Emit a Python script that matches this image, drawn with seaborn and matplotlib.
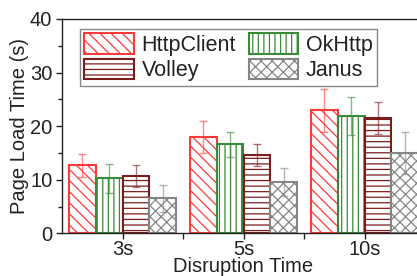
import numpy as np
import pandas as pd
import seaborn as sns
import matplotlib
matplotlib.use("Agg")
import matplotlib.pyplot as plt
import matplotlib.patches as mpatches
from matplotlib.ticker import MultipleLocator, FixedLocator

# data
times = ['3s', '5s', '10s']
libs = ['HttpClient', 'OkHttp', 'Volley', 'Janus']
httpclient = [12.7, 18.0, 23.0]
okhttp = [10.3, 16.6, 21.9]
volley = [10.7, 14.6, 21.6]
janus = [6.5, 9.5, 15.0]
httpclient_err = [2.1, 3.0, 4.0]
okhttp_err = [2.7, 2.4, 3.5]
volley_err = [2.0, 2.1, 3.0]
janus_err = [2.5, 2.6, 4.0]

colors = ['#ff3a3a', '#3a8a3a', '#7a1c1c', '#858585']
hatches = ['\\\\\\', '|||', '---', 'xxx']

df = pd.DataFrame({
    'time': times * 4,
    'lib': [l for l in libs for _ in times],
    'value': httpclient + okhttp + volley + janus,
})
errs = [httpclient_err, okhttp_err, volley_err, janus_err]

sns.set_style('ticks')
plt.rcParams['font.family'] = ['Liberation Sans', 'DejaVu Sans']
plt.rcParams['hatch.linewidth'] = 0.9
text_col = '#222222'

fig = plt.figure(figsize=(4.17, 2.76), dpi=100)
ax = fig.add_axes([62 / 417, 42.7 / 276, 363 / 417, 214.3 / 276])

sns.barplot(data=df, x='time', y='value', hue='lib', order=times, hue_order=libs,
            errorbar=None, width=0.89, gap=0, legend=False, ax=ax)

for cont, c, h, e in zip(ax.containers, colors, hatches, errs):
    for bar, err in zip(cont, e):
        bar.set_facecolor('white')
        bar.set_edgecolor(c)
        bar.set_hatch(h)
        bar.set_linewidth(1.5)
        x = bar.get_x() + bar.get_width() / 2
        ax.errorbar(x, bar.get_height(), yerr=err, color=c, alpha=0.6,
                    capsize=3, elinewidth=1.0, capthick=1.0, fmt='none')

ax.set_xlim(-0.5, 2.5)
ax.set_ylim(0, 40)
ax.yaxis.set_major_locator(MultipleLocator(10))
ax.yaxis.set_minor_locator(MultipleLocator(5))
ax.xaxis.set_minor_locator(FixedLocator([0.5, 1.5]))
ax.tick_params(axis='both', which='major', direction='out', length=4, width=1,
               labelsize=14.5, colors=text_col, pad=3)
ax.tick_params(axis='x', which='major', pad=1)
ax.tick_params(axis='both', which='minor', direction='out', length=3, width=1, color=text_col)
ax.tick_params(axis='x', which='minor', length=4)

for s in ['left', 'bottom', 'top', 'right']:
    ax.spines[s].set_visible(True)
    ax.spines[s].set_color(text_col)
    ax.spines[s].set_linewidth(1)

ax.set_xlabel('Disruption Time', fontsize=14.5, color=text_col, labelpad=-1.5)
ax.set_ylabel('Page Load Time (s)', fontsize=14.5, color=text_col, labelpad=1)

# legend fills column-wise, so order handles to read row by row
handles = [mpatches.Patch(facecolor='white', edgecolor=c, hatch=h, linewidth=1.5, label=l)
           for l, c, h in zip(libs, colors, hatches)]
handles = [handles[0], handles[2], handles[1], handles[3]]
leg = ax.legend(handles=handles, ncol=2, loc='upper left', bbox_to_anchor=(0.05, 0.955),
                fontsize=15.5, frameon=True, fancybox=False, framealpha=1,
                handlelength=2.3, handleheight=1.1, handletextpad=0.35,
                columnspacing=0.6, labelspacing=0.15, borderpad=0.2, borderaxespad=0)
leg.get_frame().set_edgecolor('#888888')
leg.get_frame().set_linewidth(1)
for t in leg.get_texts():
    t.set_color(text_col)

fig.savefig('out.png', dpi=100)
